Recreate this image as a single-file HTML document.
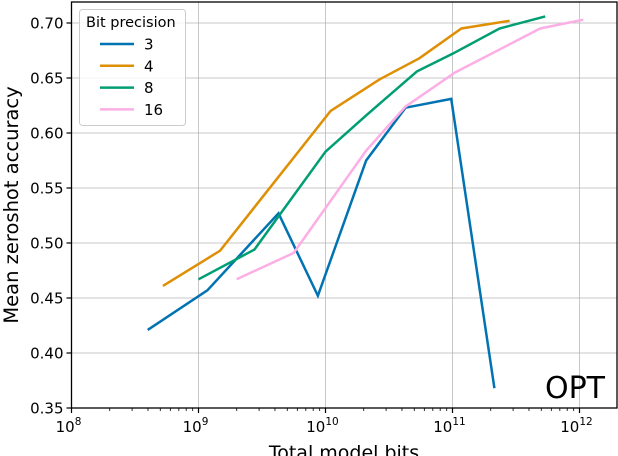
<!DOCTYPE html>
<html><head><meta charset="utf-8"><style>
html,body{margin:0;padding:0;background:#fff;}
svg{display:block;font-family:"DejaVu Sans","Liberation Sans",sans-serif;}
</style></head><body>
<svg id="chart" width="618" height="456"></svg>
<script>
const seriesNames = ["3","4","8","16"];
const seriesColors = ["#0173b2","#de8f05","#029e73","#fbafe4"];
const s3x = [8.60,9.07,9.63,9.94,10.32,10.63,10.99,11.33];
const s3y = [0.421,0.457,0.527,0.452,0.575,0.623,0.631,0.368];
const s4x = [8.72,9.17,10.04,10.43,10.74,11.07,11.45];
const s4y = [0.461,0.493,0.620,0.649,0.668,0.695,0.702];
const s8x = [9.0,9.44,10.0,10.33,10.72,11.0,11.37,11.73];
const s8y = [0.467,0.494,0.583,0.617,0.656,0.672,0.695,0.706];
const s16x = [9.30,9.75,10.32,10.63,11.02,11.69,12.03];
const s16y = [0.467,0.491,0.584,0.624,0.655,0.695,0.703];
const yTicks = [0.35,0.40,0.45,0.50,0.55,0.60,0.65,0.70];
const yTickLabels = ["0.35","0.40","0.45","0.50","0.55","0.60","0.65","0.70"];
const xTicks = [8,9,10,11,12];

const L=71.5,R=617,T=2,B=408;
const X=v=>L+(v-8)*127;
const Y=v=>B-(v-0.35)*1100;
const svg=document.getElementById('chart');
const NS='http://www.w3.org/2000/svg';
function mk(tag,attrs,parent){const e=document.createElementNS(NS,tag);for(const k in attrs)e.setAttribute(k,attrs[k]);(parent||svg).appendChild(e);return e;}

const grid=mk('g',{});


yTicks.forEach(v=>{mk('line',{x1:L,x2:R,y1:Y(v),y2:Y(v),stroke:'#b0b0b0','stroke-width':1,opacity:0.7},grid);});
xTicks.forEach(v=>{mk('line',{x1:X(v),x2:X(v),y1:T,y2:B,stroke:'#b0b0b0','stroke-width':1,opacity:0.7},grid);});

const series=[[s3x,s3y],[s4x,s4y],[s8x,s8y],[s16x,s16y]];
series.forEach((s,i)=>{
  const p=mk('polyline',{points:s[0].map((x,j)=>X(x)+','+Y(s[1][j])).join(' '),fill:'none',stroke:seriesColors[i],'stroke-width':2.5});
  
  
});

const fr=mk('rect',{x:L,y:T,width:R-L,height:B-T,fill:'none',stroke:'#000','stroke-width':1.3});



yTicks.forEach((v,i)=>{
  mk('line',{x1:L-5,x2:L,y1:Y(v),y2:Y(v),stroke:'#000','stroke-width':1.2});
  const t=mk('text',{x:L-8,y:Y(v)+5.5,'text-anchor':'end','font-size':15});
  t.textContent=yTickLabels[i];
  
  
});
xTicks.forEach(v=>{
  mk('line',{x1:X(v),x2:X(v),y1:B,y2:B+5,stroke:'#000','stroke-width':1.2});
  for(let m=2;m<10;m++){const xv=v+Math.log10(m);if(xv<12.3)mk('line',{x1:X(xv),x2:X(xv),y1:B,y2:B+3,stroke:'#000','stroke-width':0.8});}
  const t=mk('text',{x:X(v)-3,y:B+24,'text-anchor':'middle','font-size':15});
  t.textContent='10';
  const sp=mk('tspan',{dy:-7,'font-size':10.5},t);sp.textContent=String(v);
  
  
});

const xt=mk('text',{x:344,y:459,'text-anchor':'middle','font-size':19});
xt.textContent='Total model bits';


const yt=mk('text',{x:0,y:0,'text-anchor':'middle','font-size':19.5,transform:'translate(18,205) rotate(-90)'});
yt.textContent='Mean zeroshot accuracy';


const ot=mk('text',{x:605,y:398,'text-anchor':'end','font-size':30});
ot.textContent='OPT';



const lg=mk('g',{});


mk('rect',{x:79.5,y:9.5,width:106,height:116,rx:3,fill:'#fff','fill-opacity':0.8,stroke:'#ccc'},lg);
const lt=mk('text',{x:86,y:27,'font-size':14.5},lg);lt.textContent='Bit precision';
seriesNames.forEach((n,i)=>{
  const y=44+i*21.8;
  const e=mk('g',{},lg);
  
  
  mk('line',{x1:100,x2:134,y1:y,y2:y,stroke:seriesColors[i],'stroke-width':2.5},e);
  const t=mk('text',{x:144,y:y+5.5,'font-size':15},e);t.textContent=n;
});
</script>
</body></html>
